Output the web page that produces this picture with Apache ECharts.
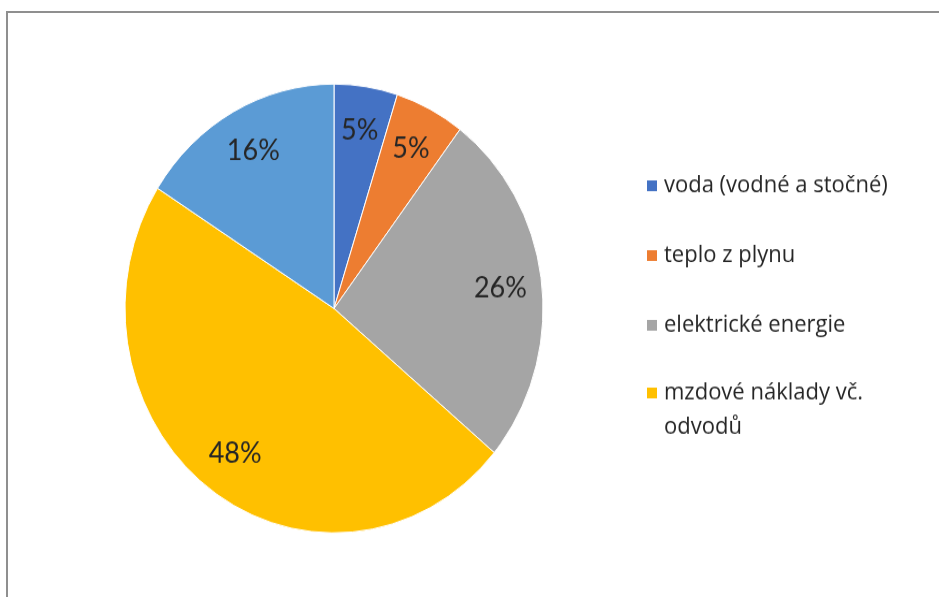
<!DOCTYPE html>
<html>
<head>
<meta charset="utf-8">
<script src="https://cdn.jsdelivr.net/npm/echarts@6/dist/echarts.min.js"></script>
<style>
  html, body { margin: 0; padding: 0; background: #fff; overflow: hidden; }
  .frame {
    position: absolute; left: 6px; top: 11px; width: 1200px; height: 900px;
    border-left: 2px solid #8f8f8f; border-top: 2px solid #8f8f8f;
  }
  /* the reference is stretched vertically, so the chart is drawn at 556px and scaled */
  #chart {
    position: absolute; left: 0; top: 0; width: 939px; height: 556px;
    transform: scaleY(1.0737); transform-origin: 0 0;
  }
</style>
</head>
<body>
<div class="frame"></div>
<div id="chart"></div>
<script>
// podiel nákladov (odhad z obrázka)
const names = ['voda (vodné a stočné)', 'teplo z plynu', 'elektrické energie', 'mzdové náklady vč. odvodů', 'ostatné']
const values = [4.9, 5.4, 25.8, 47.9, 16.0]
const colors = ['#4472C4', '#ED7D31', '#A5A5A5', '#FFC000', '#5B9BD5']
const legendNames = names.slice(0, 3)
const wrappedName = names[3]

const font = 'Lato, "Open Sans", sans-serif'
const legendText = {
  fontFamily: '"Open Sans", Lato, sans-serif',
  fontSize: 22,
  color: '#262626',
  lineHeight: 32,
  padding: [0, 0, 0, 1]
}
const data = names.map((n, i) => ({ name: n, value: values[i] }))

const legendBase = {
  orient: 'vertical',
  left: 645,
  padding: 0,
  itemWidth: 12,
  itemHeight: 12,
  itemGap: 33,
  icon: 'rect'
}

const chart = echarts.init(document.getElementById('chart'))
chart.setOption({
  color: colors,
  animation: false,
  legend: [
    Object.assign({}, legendBase, {
      data: legendNames,
      top: 157,
      textStyle: legendText
    }),
    // zalomená položka: prázdny riadok hore, aby ikonka sedela pri prvom riadku
    Object.assign({}, legendBase, {
      data: [wrappedName],
      top: 318,
      formatter: () => ' \nmzdové náklady vč.\nodvodů',
      textStyle: legendText
    })
  ],
  series: [
    {
      type: 'pie',
      center: [334, 287.3],
      radius: 209,
      startAngle: 90,
      clockwise: true,
      label: { show: false },
      labelLine: { show: false },
      itemStyle: { borderColor: '#fff', borderWidth: 1 },
      data: data
    },
    {
      // prázdna vrstva len pre popisky
      type: 'pie',
      center: [334, 287.3],
      radius: [120, 209],
      startAngle: 90,
      clockwise: true,
      silent: true,
      legendHoverLink: false,
      itemStyle: { color: 'rgba(0,0,0,0)', borderWidth: 0 },
      label: {
        show: true,
        position: 'inside',
        fontFamily: font,
        fontSize: 27,
        color: '#262626',
        formatter: p => Math.round(p.percent) + '%'
      },
      labelLine: { show: false },
      data: data.map(d => ({ name: d.name + ' ', value: d.value }))
    }
  ]
})
</script>
</body>
</html>
